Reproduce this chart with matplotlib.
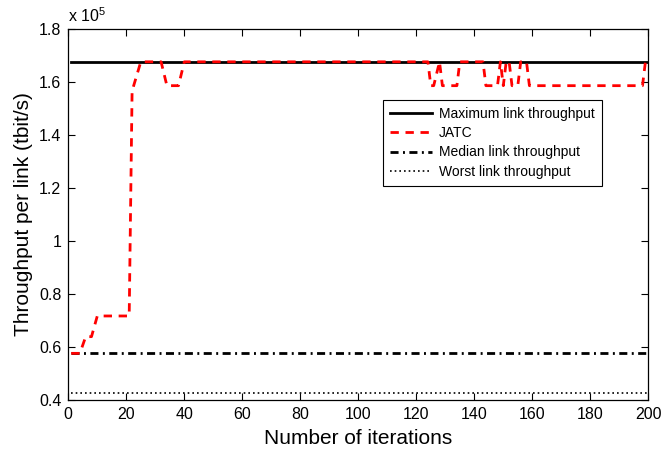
import matplotlib
matplotlib.use("Agg")
import matplotlib.pyplot as plt
import numpy as np

plt.rcParams['font.family'] = ['Liberation Sans', 'DejaVu Sans']
plt.rcParams['mathtext.default'] = 'regular'

# reference levels (tbit/s)
iter_range = [1, 200]
max_throughput = 1.675e5
median_throughput = 0.575e5
worst_throughput = 0.425e5

# JATC breakpoints (iteration, throughput)
jatc_iter = [1, 4, 6, 8, 10, 21, 22, 25, 32, 34, 38, 40,
             124, 125, 126, 128, 129, 134, 135, 143, 144, 148, 149, 150,
             151, 152, 153, 155, 156, 158, 159, 198, 199, 200]
jatc_val = [0.575, 0.575, 0.638, 0.638, 0.716, 0.716, 1.565, 1.675, 1.675, 1.585, 1.585, 1.675,
            1.675, 1.585, 1.585, 1.675, 1.585, 1.585, 1.675, 1.675, 1.585, 1.585, 1.675, 1.585,
            1.675, 1.675, 1.585, 1.585, 1.675, 1.675, 1.585, 1.585, 1.675, 1.675]
jatc_val = [v * 1e5 for v in jatc_val]

x_ticks = list(range(0, 201, 20))
y_ticks = [0.4, 0.6, 0.8, 1.0, 1.2, 1.4, 1.6, 1.8]
y_ticklabels = ['0.4', '0.6', '0.8', '1', '1.2', '1.4', '1.6', '1.8']

scale = 1e5

fig = plt.figure(figsize=(6.65, 4.51), dpi=100)
ax = fig.add_axes([0.1027, 0.1137, 0.8722, 0.8227])

ax.plot(iter_range, [max_throughput / scale] * 2, color='black', lw=2,
        label='Maximum link throughput', zorder=2)
ax.plot(jatc_iter, np.array(jatc_val) / scale, color='#ff0000', lw=2,
        dashes=(3, 2.4), label='JATC', zorder=4)
ax.plot(iter_range, [median_throughput / scale] * 2, color='black', lw=2,
        dashes=(2.9, 1.6, 0.7, 1.6), label='Median link throughput', zorder=3)
ax.plot(iter_range, [worst_throughput / scale] * 2, color='black', lw=1.2,
        dashes=(1, 1.8), label='Worst link throughput', zorder=2)

ax.set_xlim(0, 200)
ax.set_ylim(0.4, 1.8)
ax.set_xticks(x_ticks)
ax.set_yticks(y_ticks)
ax.set_yticklabels(y_ticklabels)
ax.tick_params(direction='in', top=True, right=True, length=5, width=0.8,
               labelsize=11.5, pad=5)
for s in ax.spines.values():
    s.set_linewidth(0.9)

ax.set_xlabel('Number of iterations', fontsize=15, labelpad=5)
ax.set_ylabel('Throughput per link (tbit/s)', fontsize=15, labelpad=4)
ax.text(0.0, 1.018, r'x 10$^5$', transform=ax.transAxes, fontsize=11.5,
        ha='left', va='baseline')

leg = ax.legend(loc='upper left', bbox_to_anchor=(0.5426, 0.808), fontsize=10,
                fancybox=False, framealpha=1, edgecolor='black',
                handlelength=3.0, labelspacing=0.38, borderpad=0.5,
                handletextpad=0.55, borderaxespad=0)
leg.get_frame().set_linewidth(0.8)

fig.savefig('out.png', dpi=100)
